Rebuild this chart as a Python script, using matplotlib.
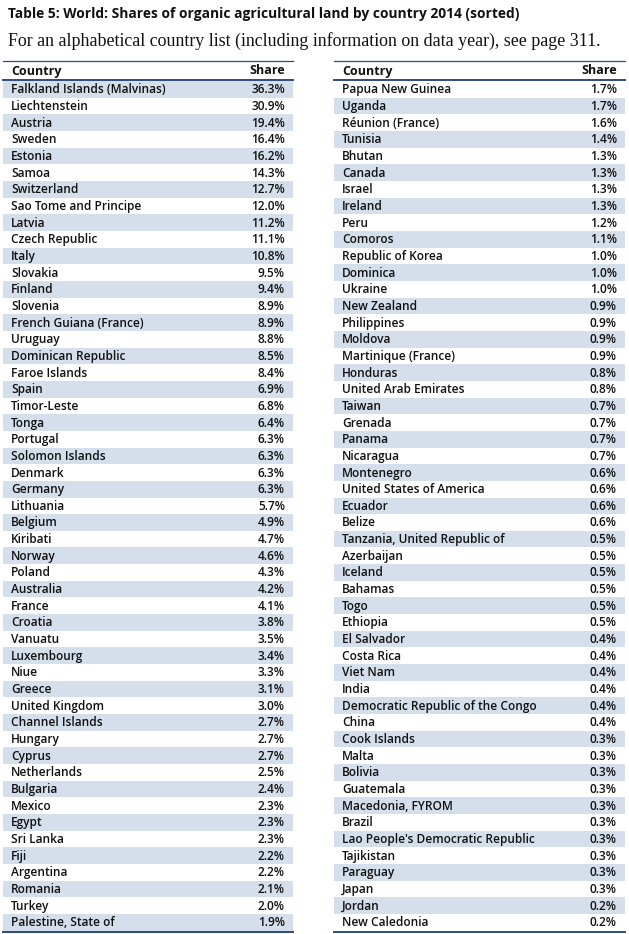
import matplotlib
matplotlib.use("Agg")
from matplotlib import pyplot as plt
from matplotlib.patches import Rectangle

title = "Table 5: World: Shares of organic agricultural land by country 2014 (sorted)"
subtitle = "For an alphabetical country list (including information on data year), see page 311."

left_countries = [
    "Falkland Islands (Malvinas)", "Liechtenstein", "Austria", "Sweden", "Estonia",
    "Samoa", "Switzerland", "Sao Tome and Principe", "Latvia", "Czech Republic",
    "Italy", "Slovakia", "Finland", "Slovenia", "French Guiana (France)",
    "Uruguay", "Dominican Republic", "Faroe Islands", "Spain", "Timor-Leste",
    "Tonga", "Portugal", "Solomon Islands", "Denmark", "Germany",
    "Lithuania", "Belgium", "Kiribati", "Norway", "Poland",
    "Australia", "France", "Croatia", "Vanuatu", "Luxembourg",
    "Niue", "Greece", "United Kingdom", "Channel Islands", "Hungary",
    "Cyprus", "Netherlands", "Bulgaria", "Mexico", "Egypt",
    "Sri Lanka", "Fiji", "Argentina", "Romania", "Turkey",
    "Palestine, State of",
]
left_shares = [
    36.3, 30.9, 19.4, 16.4, 16.2, 14.3, 12.7, 12.0, 11.2, 11.1,
    10.8, 9.5, 9.4, 8.9, 8.9, 8.8, 8.5, 8.4, 6.9, 6.8,
    6.4, 6.3, 6.3, 6.3, 6.3, 5.7, 4.9, 4.7, 4.6, 4.3,
    4.2, 4.1, 3.8, 3.5, 3.4, 3.3, 3.1, 3.0, 2.7, 2.7,
    2.7, 2.5, 2.4, 2.3, 2.3, 2.3, 2.2, 2.2, 2.1, 2.0,
    1.9,
]

right_countries = [
    "Papua New Guinea", "Uganda", "Réunion (France)", "Tunisia", "Bhutan",
    "Canada", "Israel", "Ireland", "Peru", "Comoros",
    "Republic of Korea", "Dominica", "Ukraine", "New Zealand", "Philippines",
    "Moldova", "Martinique (France)", "Honduras", "United Arab Emirates", "Taiwan",
    "Grenada", "Panama", "Nicaragua", "Montenegro", "United States of America",
    "Ecuador", "Belize", "Tanzania, United Republic of", "Azerbaijan", "Iceland",
    "Bahamas", "Togo", "Ethiopia", "El Salvador", "Costa Rica",
    "Viet Nam", "India", "Democratic Republic of the Congo", "China", "Cook Islands",
    "Malta", "Bolivia", "Guatemala", "Macedonia, FYROM", "Brazil",
    "Lao People's Democratic Republic", "Tajikistan", "Paraguay", "Japan", "Jordan",
    "New Caledonia",
]
right_shares = [
    1.7, 1.7, 1.6, 1.4, 1.3, 1.3, 1.3, 1.3, 1.2, 1.1,
    1.0, 1.0, 1.0, 0.9, 0.9, 0.9, 0.9, 0.8, 0.8, 0.7,
    0.7, 0.7, 0.7, 0.6, 0.6, 0.6, 0.6, 0.5, 0.5, 0.5,
    0.5, 0.5, 0.5, 0.4, 0.4, 0.4, 0.4, 0.4, 0.4, 0.3,
    0.3, 0.3, 0.3, 0.3, 0.3, 0.3, 0.3, 0.3, 0.3, 0.2,
    0.2,
]

W, H = 629, 934
shade = "#d5dfec"
line_col = "#2d4b7c"
sans = ["Open Sans", "DejaVu Sans"]

fig = plt.figure(figsize=(W / 100, H / 100), dpi=100)
ax = fig.add_axes([0, 0, 1, 1])
ax.set_xlim(0, W)
ax.set_ylim(H, 0)
ax.axis("off")

ax.text(8, 14, title, fontsize=9.9, fontweight="bold", family=sans,
        va="center", ha="left", color="#111111")
ax.text(8, 41, subtitle, fontsize=12.9, family=["Liberation Serif", "DejaVu Serif"],
        va="center", ha="left", color="#111111")

row_h = 16.66
y0 = 81.0


def draw_table(x0, x1, countries, shares, shade_odd):
    ax.plot([x0, x1], [60.5, 60.5], color=line_col, lw=0.9)
    ax.plot([x0, x1], [80, 80], color=line_col, lw=1.4)
    ax.text(x0 + 8, 71, "Country", fontsize=9, fontweight="bold", family=sans,
            va="center", ha="left", color="#111111")
    ax.text(x1 - 8, 71, "Share", fontsize=9, fontweight="bold", family=sans,
            va="center", ha="right", color="#111111")
    for i, (c, s) in enumerate(zip(countries, shares)):
        top = y0 + i * row_h
        if (i % 2 == 0) == shade_odd:
            ax.add_patch(Rectangle((x0, top), x1 - x0, row_h, facecolor=shade,
                                   edgecolor="none"))
        ax.text(x0 + 8, top + row_h / 2 + 0.5, c, fontsize=8.6, fontweight="semibold",
                family=sans, va="center", ha="left", color="#111111")
        ax.text(x1 - 8, top + row_h / 2 + 0.5, f"{s:.1f}%", fontsize=8.6,
                fontweight="semibold", family=sans, va="center", ha="right",
                color="#111111")
    bottom = y0 + len(countries) * row_h + 1
    ax.plot([x0, x1], [bottom, bottom], color=line_col, lw=1.4)


draw_table(3, 293, left_countries, left_shares, True)
draw_table(334, 625, right_countries, right_shares, False)

fig.savefig("out.png", dpi=100, facecolor="white")
